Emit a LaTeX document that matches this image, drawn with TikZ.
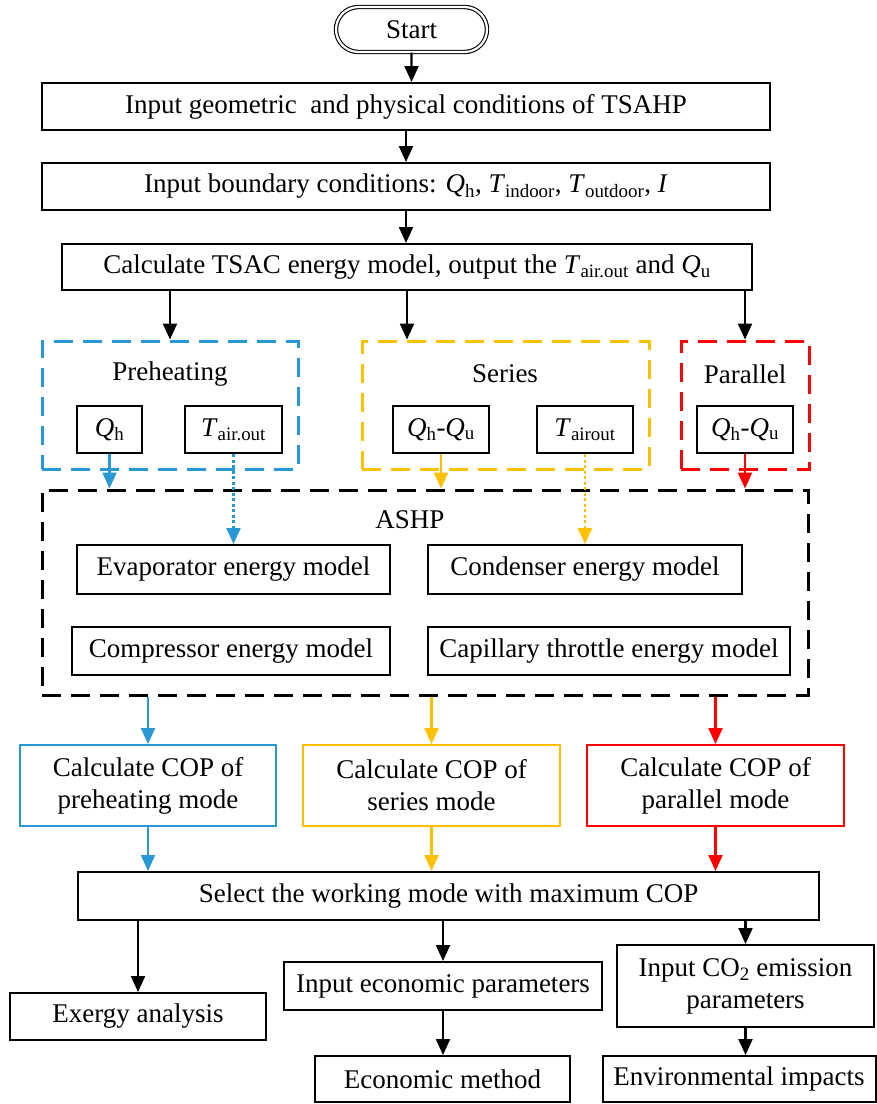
\documentclass[tikz,border=0pt]{standalone}
\usepackage{fontspec}
\setmainfont{Liberation Serif}
\usetikzlibrary{arrows.meta,shapes.misc}

\definecolor{preblue}{RGB}{41,152,212}
\definecolor{seryellow}{RGB}{255,192,0}
\definecolor{parred}{RGB}{255,0,0}
\newcommand{\Qh}{\textit{Q}\textsubscript{h}}
\newcommand{\Qu}{\textit{Q}\textsubscript{u}}
\newcommand{\Tsub}[1]{\textit{T}\textsubscript{#1}}

\begin{document}
\begin{tikzpicture}[x=1pt,y=-1pt,
    font=\fontsize{27}{32}\selectfont,
    box/.style={draw,line width=2pt,inner sep=0pt,align=center},
    group/.style={draw,line width=3pt,dash pattern=on 19pt off 10pt,inner sep=0pt},
    arr/.style={line width=2.2pt,-{Triangle[length=16pt,width=14pt]}},
    dotarr/.style={arr,dash pattern=on 3pt off 2.5pt}]
  \useasboundingbox (0,0) rectangle (877,1104);

  % top of the chart
  \node[draw,rounded rectangle,double,double distance=2.2pt,line width=1.1pt,
        minimum width=151pt,minimum height=45pt,inner sep=0pt] (start) at (411.5,29.5) {Start};
  \node[box,minimum width=728pt,minimum height=47pt] (geom) at (406,106.5)
    {Input geometric~ and physical conditions of TSAHP};
  \node[box,minimum width=728pt,minimum height=47pt] (bound) at (406,186.5)
    {Input boundary conditions: \Qh, \Tsub{indoor}, \Tsub{outdoor}, \textit{I}};
  \node[box,minimum width=690pt,minimum height=46pt] (tsac) at (407,267)
    {Calculate TSAC energy model, output the \Tsub{air.out} and \Qu};

  % the three modes
  \node[group,preblue,minimum width=256pt,minimum height=128pt] (pre) at (170,405) {};
  \node[group,seryellow,minimum width=287pt,minimum height=128pt] (ser) at (505.5,405) {};
  \node[group,parred,minimum width=128pt,minimum height=128pt] (par) at (745,405) {};
  \node (preTitle) at (170,374) {Preheating};
  \node (serTitle) at (505,374) {Series};
  \node (parTitle) at (745,374) {Parallel};
  \node[box,minimum width=65pt,minimum height=47pt] (preQ) at (109.5,429.5) {\Qh};
  \node[box,minimum width=97pt,minimum height=47pt] (preT) at (233.5,429.5) {\Tsub{air.out}};
  \node[box,minimum width=96pt,minimum height=47pt] (serQ) at (441,429.5) {\Qh-\Qu};
  \node[box,minimum width=96pt,minimum height=47pt] (serT) at (585,429.5) {\Tsub{airout}};
  \node[box,minimum width=96pt,minimum height=47pt] (parQ) at (745,429.5) {\Qh-\Qu};

  % heat pump
  \node[group,black,minimum width=766pt,minimum height=205pt] (ashp) at (425,592.5) {};
  \node (ashpTitle) at (410,520) {ASHP};
  \node[box,minimum width=313pt,minimum height=49pt] (evap) at (233.5,569.5) {Evaporator energy model};
  \node[box,minimum width=314pt,minimum height=49pt] (cond) at (585,569.5) {Condenser energy model};
  \node[box,minimum width=318pt,minimum height=48pt] (comp) at (231,651) {Compressor energy model};
  \node[box,minimum width=362pt,minimum height=48pt] (capi) at (609,651) {Capillary throttle energy model};

  % COP of each mode
  \node[box,preblue,text=black,minimum width=256pt,minimum height=81pt] (copPre) at (148,785.5)
    {Calculate COP of\\preheating mode};
  \node[box,seryellow,text=black,minimum width=257pt,minimum height=81pt] (copSer) at (431.5,785.5)
    {Calculate COP of\\series mode};
  \node[box,parred,text=black,minimum width=257pt,minimum height=81pt] (copPar) at (715.5,785.5)
    {Calculate COP of\\parallel mode};

  % bottom of the chart
  \node[box,minimum width=741pt,minimum height=48pt] (select) at (448.5,896)
    {Select the working mode with maximum COP};
  \node[box,minimum width=256pt,minimum height=47pt] (exergy) at (138,1016.5) {Exergy analysis};
  \node[box,minimum width=318pt,minimum height=48pt] (econIn) at (443,986) {Input economic parameters};
  \node[box,minimum width=257pt,minimum height=82pt] (co2) at (745.5,986)
    {Input CO\textsubscript{2} emission\\parameters};
  \node[box,minimum width=255pt,minimum height=46pt] (econM) at (442.5,1079) {Economic method};
  \node[box,minimum width=273pt,minimum height=46pt] (env) at (739,1079) {Environmental impacts};

  % connectors
  \draw[arr] (start) -- (start |- geom.north);
  \draw[arr] (geom) -- (bound);
  \draw[arr] (bound) -- (bound.south |- tsac.north);
  \draw[arr] (tsac.south -| pre.north) -- (pre.north);
  \draw[arr] (tsac.south) -- (tsac.south |- ser.north);
  \draw[arr] (tsac.south -| par.north) -- (par.north);

  \draw[arr,preblue] (preQ) -- (preQ |- ashp.north);
  \draw[dotarr,preblue] (preT) -- (evap);
  \draw[arr,seryellow] (serQ) -- (serQ |- ashp.north);
  \draw[dotarr,seryellow] (serT) -- (cond);
  \draw[arr,parred] (parQ) -- (parQ |- ashp.north);

  \draw[arr,preblue] (ashp.south -| copPre.north) -- (copPre.north);
  \draw[arr,seryellow] (ashp.south -| copSer.north) -- (copSer.north);
  \draw[arr,parred] (ashp.south -| copPar.north) -- (copPar.north);
  \draw[arr,preblue] (copPre) -- (copPre.south |- select.north);
  \draw[arr,seryellow] (copSer) -- (copSer.south |- select.north);
  \draw[arr,parred] (copPar) -- (copPar.south |- select.north);

  \draw[arr] (select.south -| exergy.north) -- (exergy.north);
  \draw[arr] (select.south -| econIn.north) -- (econIn.north);
  \draw[arr] (select.south -| co2.north) -- (co2.north);
  \draw[arr] (econIn) -- (econIn.south |- econM.north);
  \draw[arr] (co2) -- (co2.south |- env.north);
\end{tikzpicture}
\end{document}
